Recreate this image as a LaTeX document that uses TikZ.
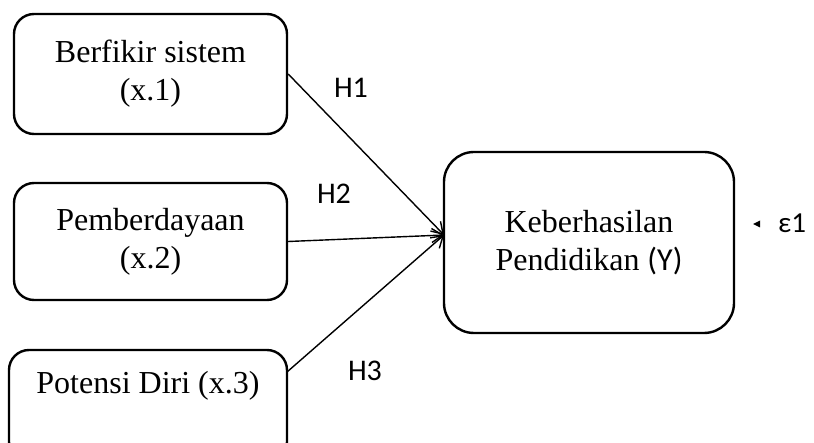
\documentclass[tikz,border=0pt]{standalone}
\usepackage{fontspec}
\setmainfont{Liberation Serif}
\newfontfamily\calib{Carlito}
\usetikzlibrary{arrows.meta}
\tikzset{
  box/.style={draw, line width=2.4pt, rounded corners=20pt, inner sep=0pt, align=center,
    font=\fontsize{32}{38}\selectfont},
  hlab/.style={font=\calib\fontsize{30}{36}\selectfont, inner sep=0pt},
  conn/.style={line width=1.4pt, -{Straight Barb[length=11pt,width=14pt,line width=1.4pt]}}
}
\begin{document}
\begin{tikzpicture}[x=1pt,y=-1pt]
\useasboundingbox (0,0) rectangle (814,443);
\clip (0,0) rectangle (814,443);
\node[box, minimum width=273pt, minimum height=120pt] (b1) at (150.5,74) {Berfikir sistem\\(x.1)};
\node[box, minimum width=273pt, minimum height=117pt] (b2) at (150.5,241.5) {Pemberdayaan\\(x.2)};
\node[box, minimum width=278pt, minimum height=112pt] (b3) at (148,406) {};
\node[font=\fontsize{32}{38}\selectfont, inner sep=0pt] (t3) at (148,386) {Potensi Diri (x.3)};
\node[box, rounded corners=30pt, minimum width=290pt, minimum height=181pt] (Y) at (589,242.5) {Keberhasilan\\Pendidikan {\calib (Y)}};
\coordinate (yin) at (444,235);
\coordinate (b3out) at (287,372);
\draw[conn] (b1.east) -- (yin);
\draw[conn] (b2.east) -- (yin);
\draw[conn] (b3out) -- (yin);
\node[hlab] (h1) at (351,88) {H1};
\node[hlab] (h2) at (334,194) {H2};
\node[hlab] (h3) at (365,371) {H3};
\node[hlab, anchor=west, font=\calib\fontsize{29}{34}\selectfont] (eps) at (778,223) {ε1};
\fill (753,224) -- (760,220.5) -- (760,227.5) -- cycle;
\end{tikzpicture}
\end{document}
